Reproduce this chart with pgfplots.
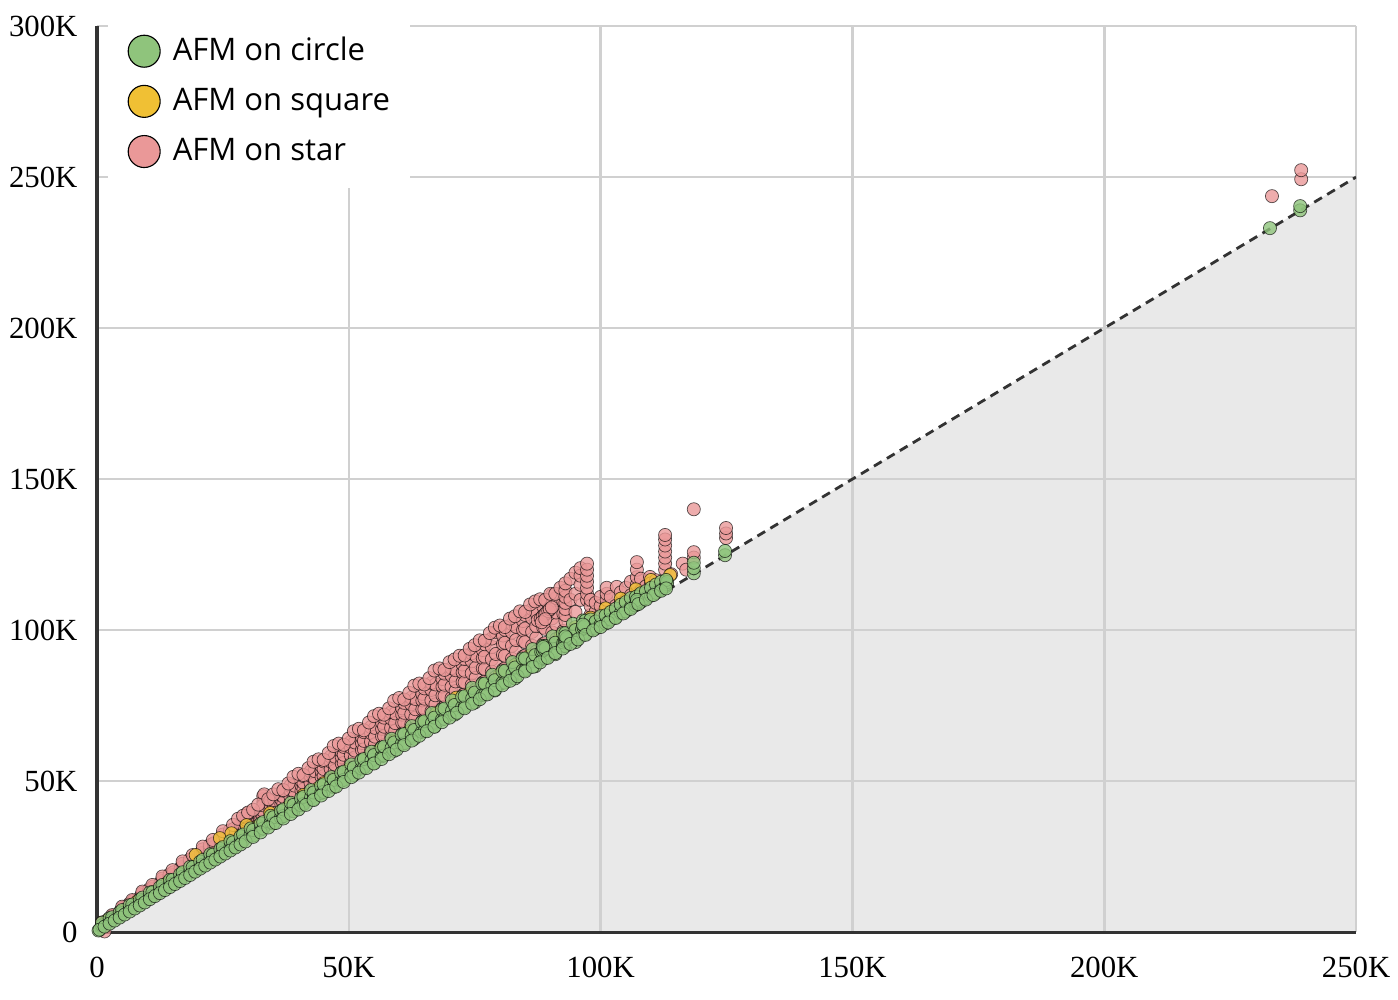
\documentclass[border=0pt]{standalone}
\usepackage{fontspec}
\setmainfont{Liberation Serif}
\newfontfamily\legfont{Open Sans}
\usepackage{pgfplots}
\pgfplotsset{compat=1.18}
\usetikzlibrary{calc}
\definecolor{cgreen}{RGB}{143,196,124}
\definecolor{cyellow}{RGB}{240,192,52}
\definecolor{cpink}{RGB}{234,152,152}
\definecolor{fillc}{RGB}{233,233,233}
\definecolor{gridc}{RGB}{208,208,208}
\definecolor{axisc}{RGB}{51,51,51}
\pgfplotsset{
  mk/.style={only marks, mark=*, mark size=2.35pt, forget plot,
    mark options={fill=#1, draw=black, draw opacity=0.65, line width=0.25pt, fill opacity=0.8}},
}
\begin{document}
\begin{tikzpicture}
\begin{axis}[
  set layers,
  scale only axis, width=450.3pt, height=324pt,
  xmin=0, xmax=250, ymin=0, ymax=300,
  axis lines=left, axis line style={-, line width=1.1pt, color=axisc},
  xtick={0,50,100,150,200,250}, xticklabels={0,50K,100K,150K,200K,250K},
  ytick={0,50,100,150,200,250,300}, yticklabels={0,50K,100K,150K,200K,250K,300K},
  major tick length=0pt,
  grid=major, grid style={line width=0.9pt, color=gridc},
  tick label style={font=\fontsize{11}{13}\selectfont, inner sep=0pt},
  xticklabel style={anchor=north, yshift=-8.9pt},
  yticklabel style={anchor=east, xshift=-6.8pt},
  legend style={at={(0.008,1.0128)}, anchor=north west, draw=none, fill=white,
    inner xsep=7.15pt, inner ysep=7pt, row sep=6.1pt,
    font=\legfont\fontsize{11.1}{12}\selectfont,
    nodes={inner sep=0pt, anchor=west},
    /tikz/every odd column/.append style={column sep=4.3pt}},
  legend cell align=left,
]
\coordinate (O) at (rel axis cs:0,0);
\addlegendimage{legend image code/.code={\draw[black, line width=0.4pt, fill=cgreen] (0cm,0cm) circle (5.72pt);}}
\addlegendentry{AFM on circle}
\addlegendimage{legend image code/.code={\draw[black, line width=0.4pt, fill=cyellow] (0cm,0cm) circle (5.72pt);}}
\addlegendentry{AFM on square}
\addlegendimage{legend image code/.code={\draw[black, line width=0.4pt, fill=cpink] (0cm,0cm) circle (5.72pt);}}
\addlegendentry{AFM on star}

\addplot[fill=fillc, draw=none, on layer=axis background, forget plot] coordinates {(0,0) (250,250) (250,0) (0,0)};
\addplot[color=axisc, line width=1pt, dash pattern=on 3.2pt off 2.2pt, forget plot] coordinates {(0,0) (250,250)};

% AFM on star
\addplot[mk=cpink] coordinates {
(1.5,0.2)(1,2.6)(1,2.8)(1,3.0)(1,3.2)(2.4,3.8)(2.4,4.0)(2.4,4.3)(2.4,4.4)(3.2,4.7)(3.2,4.95)(3.2,5.2)(3.2,5.5)(4.6,5.8)(4.6,6.2)(4.6,6.5)(4.6,6.8)
(5,6.8)(5,7.2)(5,7.6)(5,8.0)(6.4,8.1)(6.4,8.6)(6.4,9.0)(6.4,9.3)(7.2,8.85)(7.2,9.4)(7.2,9.8)(7.2,10.3)(8.6,10.1)(8.6,10.7)(8.6,11.2)(8.6,11.6)
(9,11.05)(9,11.7)(9,12.3)(9,12.9)(10.4,12.4)(10.4,13.1)(10.4,13.8)(10.4,14.2)(11.2,13.1)(11.2,13.8)(11.2,14.4)(11.2,15.1)(12.6,14.35)(12.6,15.2)(12.6,15.9)(12.6,16.4)
(13,15.3)(13,16.1)(13,16.9)(13,17.7)(14.4,16.8)(14.4,17.6)(14.4,18.5)(14.4,19.1)(15.2,17.25)(15.2,18.2)(15.2,18.9)(15.2,19.8)(16.6,18.6)(16.6,19.7)(16.6,20.6)(16.6,21.2)
(17,19.5)(17,20.5)(17,21.6)(17,22.6)(18.4,21.1)(18.4,22.2)(18.4,23.2)(18.4,24.0)(19.2,21.45)(19.2,22.6)(19.2,23.5)(19.2,24.6)(20.6,22.9)(20.6,24.3)(20.6,25.2)(20.6,26.0)
(21,23.75)(21,25.0)(21,26.2)(21,27.4)(22.4,25.4)(22.4,26.7)(22.4,28.0)(22.4,28.8)(23.2,25.65)(23.2,27.0)(23.2,28.1)(23.2,29.4)(24.6,27.2)(24.6,28.8)(24.6,29.9)(24.6,30.8)
(25,28.0)(25,29.4)(25,30.8)(25,32.3)(26.4,29.8)(26.4,31.3)(26.4,32.7)(26.4,33.7)(27.2,29.85)(27.2,31.4)(27.2,32.7)(27.2,34.2)(28.6,31.4)(28.6,33.3)(28.6,34.6)(28.6,35.6)
(29,32.2)(29,33.9)(29,35.5)(29,37.1)(30.4,34.1)(30.4,35.8)(30.4,37.5)(30.4,38.6)(31.2,34.05)(31.2,35.8)(31.2,37.2)(31.2,38.95)(32.6,35.7)(32.6,37.8)(32.6,39.3)(32.6,40.4)
(29.6,36.2)(29.7,37.0)(29.8,37.8)(29.7,38.6)(29.9,39.3)
(33,41.0)(33.1,42.0)(33,43.0)(33.1,44.0)(33,45.0)(33.2,45.6)
(33,36.45)(33,38.3)(33,40.1)(33,41.95)(34.4,38.5)(34.4,40.3)(34.4,42.2)(34.4,43.5)(35.2,38.25)(35.2,40.2)(35.2,41.8)(35.2,43.7)(36.6,40.0)(36.6,42.3)(36.6,43.9)(36.6,45.3)
(37,40.7)(37,42.7)(37,44.8)(37,46.8)(38.4,42.8)(38.4,44.9)(38.4,47.0)(38.4,48.4)(39.2,42.45)(39.2,44.6)(39.2,46.4)(39.2,48.5)(40.6,44.2)(40.6,46.8)(40.6,48.6)(40.6,50.1)
(41,44.9)(41,47.2)(41,49.4)(41,51.65)(42.4,47.1)(42.4,49.4)(42.4,51.7)(42.4,53.2)(43.2,46.65)(43.2,49.0)(43.2,50.9)(43.2,53.3)(44.6,48.5)(44.6,51.3)(44.6,53.3)(44.6,54.9)
(45,49.2)(45,51.6)(45,54.0)(45,56.5)(46.4,51.5)(46.4,54.0)(46.4,56.5)(46.4,58.1)(47.2,50.85)(47.2,53.4)(47.2,55.5)(47.2,58.1)(48.6,52.8)(48.6,55.8)(48.6,57.9)(48.6,59.7)
(49,53.4)(49,56.0)(49,58.7)(49,61.3)(50.4,55.8)(50.4,58.5)(50.4,61.2)(50.4,63.0)(51.2,55.05)(51.2,57.8)(51.2,60.1)(51.2,62.8)(52.6,57.0)(52.6,60.3)(52.6,62.6)(52.6,64.5)
(53,57.6)(53,60.5)(53,63.3)(53,66.2)(54.4,60.1)(54.4,63.0)(54.4,65.9)(54.4,67.9)(55.2,59.25)(55.2,62.2)(55.2,64.7)(55.2,67.6)(56.6,61.3)(56.6,64.8)(56.6,67.3)(56.6,69.3)
(57,61.9)(57,64.9)(57,68.0)(57,71.0)(58.4,64.5)(58.4,67.6)(58.4,70.7)(58.4,72.8)(59.2,63.45)(59.2,66.6)(59.2,69.2)(59.2,72.4)(60.6,65.6)(60.6,69.3)(60.6,72.0)(60.6,74.1)
(61,66.1)(61,69.4)(61,72.6)(61,75.9)(62.4,68.8)(62.4,72.1)(62.4,75.4)(62.4,77.6)(63.2,67.65)(63.2,71.0)(63.2,73.8)(63.2,77.2)(64.6,69.8)(64.6,73.8)(64.6,76.7)(64.6,78.9)
(65,70.3)(65,73.8)(65,77.3)(65,80.7)(66.4,73.1)(66.4,76.7)(66.4,80.2)(66.4,82.5)(67.2,71.85)(67.2,75.4)(67.2,78.4)(67.2,82.0)(68.6,74.1)(68.6,78.3)(68.6,81.3)(68.6,83.8)
(69,74.6)(69,78.2)(69,81.9)(69,85.6)(70.4,77.5)(70.4,81.2)(70.4,84.9)(70.4,87.4)(71.2,76.05)(71.2,79.8)(71.2,83.0)(71.2,86.7)(72.6,78.4)(72.6,82.8)(72.6,86.0)(72.6,88.6)
(73,78.8)(73,82.7)(73,86.5)(73,90.4)(74.4,81.8)(74.4,85.7)(74.4,89.7)(74.4,92.3)(75.2,80.25)(75.2,84.2)(75.2,87.5)(75.2,91.5)(76.6,82.6)(76.6,87.3)(76.6,90.7)(76.6,93.4)
(77,83.0)(77,87.1)(77,91.2)(77,95.3)(78.4,86.2)(78.4,90.3)(78.4,94.4)(78.4,97.2)(79.2,84.45)(79.2,88.6)(79.2,92.1)(79.2,99.4)(80.6,86.9)(80.6,91.8)(80.6,95.4)(80.6,98.2)
(81,87.3)(81,91.5)(81,95.8)(81,100.1)(82.4,90.5)(82.4,94.8)(82.4,99.2)(82.4,102.0)(83.2,88.65)(83.2,93.0)(83.2,96.7)(83.2,101.1)(84.6,91.2)(84.6,96.4)(84.6,100.0)(84.6,103.0)
(85,91.5)(85,96.0)(85,100.5)(85,105.0)(86.4,94.8)(86.4,99.4)(86.4,103.9)(86.4,106.9)(87.2,92.85)(87.2,97.4)(87.2,101.3)(87.2,105.8)(88.6,95.4)(88.6,100.9)(88.6,104.7)(88.6,107.8)
(89,95.7)(89,100.4)(89,105.1)(89,109.8)(90.4,99.2)(90.4,103.9)(90.4,108.6)(90.4,111.8)(91.2,97.05)(91.2,101.8)(91.2,105.8)(91.2,110.6)(92.6,99.7)(92.6,105.4)(92.6,109.4)(92.6,112.6)
(3,5.6)(5,8.4)(7,10.6)(9,13.4)(11,15.6)(13,18.4)(15,20.5)(17,23.4)(19,25.5)(21,28.3)(23,30.5)(25,33.4)(27,35.5)(28,37.5)(29,38.5)(30,39.6)(31,40.5)(32,42.2)(34,44.0)(35,45.6)(36,47.3)(37,47.0)(38,49.2)(39,51.4)(40,52.4)(41,52.0)(42,54.3)(43,56.4)(44,57.2)(45,57.0)(46,59.3)(47,61.6)(48,62.4)(49,62.0)(50,64.1)(51,66.5)(52,67.3)(53,66.8)(54,69.4)(55,71.5)(56,72.3)(57,72.0)(58,74.1)(59,76.6)(60,77.5)(61,77.0)(62,79.2)(63,81.6)(64,82.3)(65,82.0)(66,84.1)(67,86.6)(68,87.3)(69,86.8)(70,89.4)(71,90.3)(72,91.5)(73,91.6)(74,93.8)(75,95.0)(76,96.6)(77,96.5)(78,99.0)(79,100.8)(80,101.5)(81,101.0)(82,103.8)(83,104.6)(84,106.2)(85,106.0)(86,108.5)(87,109.5)(88,110.2)(89,110.0)(90,112.0)(91,112.0)(92,114.0)
(87.5,103.2)(88.1,103.8)(88.5,104.5)(88.9,105.1)(89.2,105.7)(89.6,106.3)(89.9,106.9)(90.3,107.5)(88.3,102.6)(89.0,103.6)
(93,103.0)(93,105.0)(93,107.0)(93,109.0)(93,111.0)(93,113.0)(93,115.5)
(94,110.0)(94,117.0)(95,106.0)(95,112.0)(95,119.0)(96,110.0)(96,115.0)(96,118.0)(96,120.5)
(97.3,110)(97.3,112)(97.3,114)(97.3,116)(97.3,118)(97.3,120)(97.3,122)
(98,105)(98,108)(98,110)(99,106)(99,109)(100,105)(100,108)(100,111)
(101.2,104)(101.2,106)(101.2,108)(101.2,110)(101.2,112)(101.2,114)
(102,106)(102,111)(103,108)(103.2,114.3)(104,109)(104,112.5)(105,110)(105,114)(106,111.5)(106,116)
(107.2,112)(107.2,115)(107.2,117.5)(107.2,120)(107.2,122.5)
(108,113)(108,117)(109,114.5)(109.8,117.6)(110,115.5)(111,116.5)
(112.8,120)(112.8,122)(112.8,124)(112.8,126)(112.8,128)(112.8,130)(112.8,131.5)
(114,118.5)(116.3,122)(117,120)(118.5,124)(118.5,125.8)(118.5,140)
(124.9,130.5)(124.9,132)(124.9,133.8)
(233.3,243.7)(239.1,249.3)(239.1,252.3)
};

% AFM on square
\addplot[mk=cyellow] coordinates {
(2,3.8)(5,6.9)(8,10.1)(11,13.2)(14,16.3)(17,19.5)(20,22.6)(23,25.7)(26,28.9)(29,32.0)(32,35.1)(35,38.3)(38,41.4)(41,44.5)(44,47.7)(47,50.8)(50,53.9)(53,57.1)(56,60.2)(59,63.4)(62,66.5)(65,69.6)(68,72.8)(71,75.9)(74,79.0)(77,82.2)(80,85.3)(83,88.4)(86,91.6)(89,94.7)(92,97.8)(95,101.0)(98,104.1)(101,107.2)(104,110.4)(107,113.5)(110,116.6)
(19.6,25.5)(24.4,31.1)(26.7,32.7)(29.7,35.4)(34.4,39.4)(41,45.4)(45,49.3)(56.2,60.3)(67.4,72.5)(71.3,77.6)(107.8,111.6)(113.8,118.2)
};

% AFM on circle
\addplot[mk=cgreen] coordinates {
(0.3,0.5)(1,2.2)(1,3.1)(2.5,3.6)(2.5,4.6)(3,4.0)(3,4.9)(4.5,5.4)(4.5,6.5)(5,6.2)(5,7.3)(6.5,7.7)(6.5,8.9)(7,8.0)(7,9.1)(8.5,9.5)(8.5,10.7)(9,10.2)(9,11.4)(10.5,11.8)(10.5,13.1)
(11,12.0)(11,13.2)(12.5,13.6)(12.5,14.9)(13,14.2)(13,15.6)(14.5,15.9)(14.5,17.3)(15,16.0)(15,17.3)(16.5,17.6)(16.5,19.1)(17,18.3)(17,19.8)(18.5,20.0)(18.5,21.6)(19,20.0)(19,21.5)(20.5,21.7)(20.5,23.3)
(21,22.3)(21,23.9)(22.5,24.1)(22.5,25.8)(23,24.0)(23,25.6)(24.5,25.7)(24.5,27.5)(25,26.3)(25,28.1)(26.5,28.2)(26.5,30.1)(27,28.0)(27,29.7)(28.5,29.8)(28.5,31.7)(29,30.3)(29,32.3)(30.5,32.3)(30.5,34.3)
(31,32.0)(31,33.8)(32.5,33.9)(32.5,35.9)(33,34.3)(33,36.4)(34.5,36.4)(34.5,38.5)(35,36.0)(35,38.0)(36.5,37.9)(36.5,40.1)(37,38.4)(37,40.6)(38.5,40.5)(38.5,42.8)(39,40.0)(39,42.1)(40.5,42.0)(40.5,44.3)
(41,42.4)(41,44.8)(42.5,44.6)(42.5,47.0)(43,44.0)(43,46.2)(44.5,46.0)(44.5,48.5)(45,46.4)(45,48.9)(46.5,48.7)(46.5,51.3)(47,48.0)(47,50.4)(48.5,50.1)(48.5,52.7)(49,50.4)(49,53.1)(50.5,52.8)(50.5,55.5)
(51,52.0)(51,54.5)(52.5,54.2)(52.5,56.9)(53,54.5)(53,57.3)(54.5,56.9)(54.5,59.7)(55,56.0)(55,58.6)(56.5,58.2)(56.5,61.1)(57,58.5)(57,61.4)(58.5,61.0)(58.5,64.0)(59,60.0)(59,62.8)(60.5,62.3)(60.5,65.3)
(61,62.5)(61,65.6)(62.5,65.1)(62.5,68.2)(63,64.0)(63,66.9)(64.5,66.3)(64.5,69.5)(65,66.5)(65,69.8)(66.5,69.2)(66.5,72.5)(67,68.0)(67,71.0)(68.5,70.4)(68.5,73.7)(69,70.6)(69,74.0)(70.5,73.3)(70.5,76.7)
(71,72.0)(71,75.2)(72.5,74.5)(72.5,77.9)(73,74.6)(73,78.1)(74.5,77.4)(74.5,80.9)(75,76.0)(75,79.3)(76.5,78.5)(76.5,82.2)(77,78.6)(77,82.3)(78.5,81.5)(78.5,85.2)(79,80.0)(79,83.4)(80.5,82.6)(80.5,86.4)
(81,82.6)(81,86.5)(82.5,85.6)(82.5,89.4)(83,84.0)(83,87.6)(84.5,86.6)(84.5,90.6)(85,86.7)(85,90.6)(86.5,89.7)(86.5,93.7)(87,88.0)(87,91.7)(88.5,90.7)(88.5,94.8)(89,90.7)(89,94.8)(90.5,93.8)(90.5,97.9)
(91,92.0)(91,95.8)(92.5,94.8)(92.5,99.0)(93,94.7)(93,99.0)(94.5,97.9)(94.5,102.1)(95,96.0)(95,100.0)(96.5,98.8)(96.5,103.2)(97,98.7)(97,103.1)(98,101.0)(98,103.5)(99,100.5)(99,102.8)(100,101.8)(100,104.6)
(101,102.2)(101,104.9)(102,103.5)(102,106.0)(103,104.3)(103,107.1)(104,105.6)(104,108.4)(105,106.2)(105,109.3)(106,107.5)(106,110.6)(107,108.4)(107,111.0)(108,109.3)(108,112.2)(109,110.6)(109,112.9)(110,111.4)(110,114.0)(111,112.3)(111,115.1)(112,113.4)(112,116.0)
(88.2,92.8)(88.5,93.2)(88.8,93.6)(89.1,94.0)(88.6,94.4)(92.6,95.9)(92.9,96.4)(93.1,96.9)(93.3,97.4)(93.0,97.9)(96.3,100.3)(96.6,100.8)(96.8,101.3)(96.5,101.8)(106.9,108.2)(107.1,108.8)(107.3,109.4)(107.2,110.0)(112.9,114.5)(113.1,115.2)(113.2,115.9)(113.0,116.6)
(0.5,0.8)(1.5,1.8)(2.5,2.8)(3.5,3.8)(4.5,4.8)(5.5,5.8)(6.5,6.8)(7.5,7.8)(8.5,8.8)(9.5,9.8)(10.5,10.9)(11.5,11.9)(12.5,12.9)(13.5,13.9)(14.5,14.9)(15.5,15.9)(16.5,16.9)(17.5,17.9)(18.5,18.9)(19.5,20.0)(20.5,21.0)(21.5,22.0)(22.5,23.0)(23.5,24.0)(24.5,25.0)(25.5,26.0)(26.5,27.0)(27.5,28.0)(28.5,29.0)(29.5,30.0)(31,31.5)(32.5,33.0)(34,34.6)(35.5,36.1)(37,37.6)(38.5,39.1)(40,40.6)(41.5,42.1)(43,43.7)(44.5,45.2)(46,46.7)(47.5,48.2)(49,49.7)(50.5,51.3)(52,52.8)(53.5,54.3)(55,55.8)(56.5,57.3)(58,58.9)(59.5,60.4)(61,61.9)(62.5,63.4)(64,65.0)(65.5,66.5)(67,68.0)(68.5,69.5)(70,71.0)(71.5,72.6)(73,74.1)(74.5,75.6)(76,77.1)(77.5,78.7)(79,80.2)(80.5,81.7)(82,83.2)(83.5,84.7)(85,86.3)(86.5,87.8)(88,89.3)(89.5,90.8)(91,92.4)(92.5,93.9)(94,95.4)(95.5,96.9)(97,98.4)(98.5,99.9)(100,101.0)(101.5,102.5)(103,104.0)(104.5,105.5)(106,107.0)(107.5,108.6)(109,110.1)(110.5,111.6)(112,113.0)(113,113.8)
(118.5,118.8)(118.5,120.5)(118.5,122.3)(124.7,124.8)(124.7,126.2)
(232.9,233.1)(238.9,239.0)(238.9,240.4)
};
\end{axis}
\pgfresetboundingbox
\path[use as bounding box] ($(O)+(-34.7pt,-24.3pt)$) rectangle ($(O)+(465.3pt,333.35pt)$);
\end{tikzpicture}
\end{document}
